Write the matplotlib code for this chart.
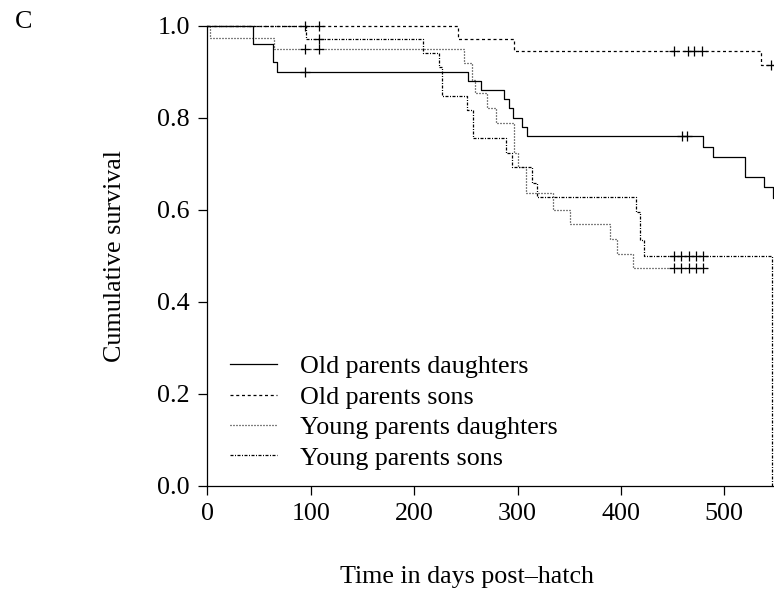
import numpy as np
import matplotlib
matplotlib.use("Agg")
import matplotlib.pyplot as plt

plt.rcParams['font.family'] = ['Liberation Serif', 'DejaVu Serif']
plt.rcParams['font.size'] = 18.7

# Kaplan-Meier step curves: event times (days) and survival after each step
od_t = [0, 44.6, 63.2, 67.1, 252.4, 264.4, 287, 292, 295.3, 304.4, 308.9,
        479.7, 488.8, 520, 538.5, 546.8, 548]
od_s = [1.0, 0.961, 0.921, 0.901, 0.881, 0.861, 0.841, 0.822, 0.801, 0.781,
        0.761, 0.737, 0.716, 0.671, 0.650, 0.626, 0.626]
od_ct = [94.8, 459, 463.6]
od_cs = [0.901, 0.761, 0.761]

os_t = [0, 242.6, 296.3, 535.8, 548]
os_s = [1.0, 0.972, 0.946, 0.915, 0.915]
os_ct = [94.8, 108.3, 451.7, 465.2, 471, 478, 545]
os_cs = [1.0, 1.0, 0.946, 0.946, 0.946, 0.946, 0.915]

yd_t = [0, 3, 64.5, 248.3, 256.4, 259, 270.8, 278.9, 296.6, 300, 308.5,
        334.7, 350.8, 389.5, 395.9, 411.4, 483]
yd_s = [1.0, 0.973, 0.949, 0.919, 0.883, 0.855, 0.821, 0.790, 0.725, 0.694,
        0.636, 0.601, 0.569, 0.538, 0.505, 0.475, 0.475]
yd_ct = [94.8, 108.3, 451, 458, 465.5, 473, 479.4]
yd_cs = [0.949, 0.949, 0.475, 0.475, 0.475, 0.475, 0.475]

ys_t = [0, 95, 209, 224, 227, 250.9, 257.3, 288.9, 294.4, 313.7, 318.5,
        414.7, 418.5, 422.3, 546.5, 548]
ys_s = [1.0, 0.972, 0.942, 0.910, 0.848, 0.817, 0.756, 0.723, 0.694, 0.658,
        0.629, 0.596, 0.534, 0.501, 0.0, 0.0]
ys_ct = [108.3, 451, 458, 465.5, 473, 479.4]
ys_cs = [0.972, 0.501, 0.501, 0.501, 0.501, 0.501]

labels = ['Old parents daughters', 'Old parents sons',
          'Young parents daughters', 'Young parents sons']
styles = ['-', (0, (2.4, 2.2)), (0, (0.8, 1.6)), (0, (2.4, 1.2, 0.8, 1.2))]

W, H = 774, 597
fig = plt.figure(figsize=(W / 100, H / 100), dpi=100)
ax = fig.add_axes([207.3 / W, 1 - 486 / H, 1 - 207.3 / W, (486 - 26) / H])

curves = [(od_t, od_s, od_ct, od_cs), (os_t, os_s, os_ct, os_cs),
          (yd_t, yd_s, yd_ct, yd_cs), (ys_t, ys_s, ys_ct, ys_cs)]
for (t, s, ct, cs), ls, lab in zip(curves, styles, labels):
    ax.plot(t, s, drawstyle='steps-post', color='black', lw=0.9, ls=ls,
            label=lab, clip_on=False)
    ax.plot(ct, cs, ls='none', marker='+', ms=7, mew=0.9, color='black',
            clip_on=False)

ax.set_xlim(0, 548)
ax.set_ylim(0, 1)
ax.set_xticks([0, 100, 200, 300, 400, 500])
ax.set_yticks([0.0, 0.2, 0.4, 0.6, 0.8, 1.0])
ax.set_yticklabels(['0.0', '0.2', '0.4', '0.6', '0.8', '1.0'])
ax.tick_params(direction='out', length=6.5, width=0.9, pad=6)
ax.spines['top'].set_visible(False)
ax.spines['right'].set_visible(False)
for sp in ['left', 'bottom']:
    ax.spines[sp].set_linewidth(0.9)

ax.legend(loc='upper left', bbox_to_anchor=(0.040, (486 - 355) / 460),
          frameon=False, handlelength=1.8, handletextpad=0.88,
          labelspacing=0.28, borderaxespad=0, borderpad=0)

fig.text(115 / W, 1 - 256 / H, 'Cumulative survival', rotation=90,
         ha='center', va='center')
fig.text(467 / W, 1 - 577 / H, 'Time in days post\u2013hatch',
         ha='center', va='center')
fig.text(15 / W, 1 - 22 / H, 'C', ha='left', va='center')

fig.savefig('out.png', dpi=100)
